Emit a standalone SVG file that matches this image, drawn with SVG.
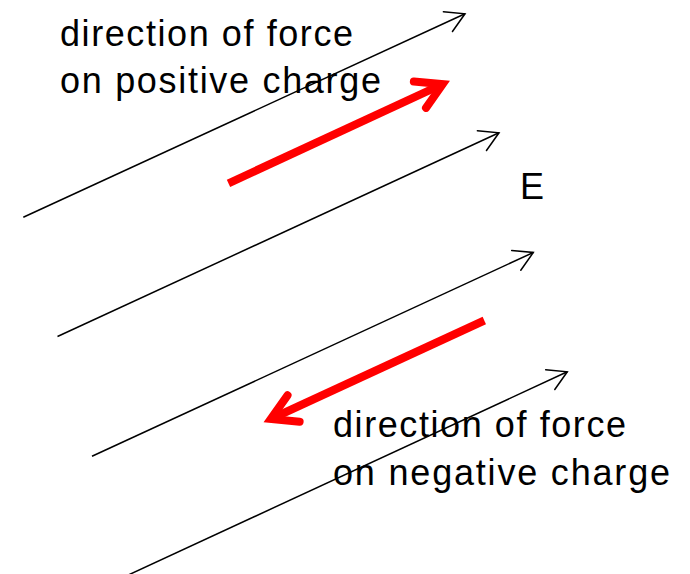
<svg xmlns="http://www.w3.org/2000/svg" width="690" height="574" viewBox="0 0 690 574">
  <style>
    .field { stroke: #000000; stroke-width: 1.5; fill: none; marker-end: url(#blackhead); }
    .force { stroke: #FF0000; stroke-width: 8; fill: none; stroke-linecap: butt; marker-end: url(#redhead); }
    .label { font-family: "Liberation Sans", Arial, sans-serif; font-size: 36px; fill: #000000; }
  </style>
  <defs>
    <marker id="blackhead" markerUnits="userSpaceOnUse" orient="auto" refX="0" refY="0" markerWidth="40" markerHeight="40" viewBox="-30 -20 40 40" overflow="visible">
      <path d="M-18.8,-10.85 L0,0 L-18.8,10.85" fill="none" stroke="#000000" stroke-width="1.5" stroke-linejoin="miter" stroke-linecap="round"/>
    </marker>
    <marker id="redhead" markerUnits="userSpaceOnUse" orient="auto" refX="0" refY="0" markerWidth="60" markerHeight="60" viewBox="-40 -30 60 60" overflow="visible">
      <path d="M-25.1,-14.5 L0,0 L-25.1,14.5" fill="none" stroke="#FF0000" stroke-width="8" stroke-linejoin="miter" stroke-linecap="round"/>
    </marker>
  </defs>
  <g id="connectors">
    <line id="field1" class="field" x1="23.3" y1="217.3" x2="465" y2="13.8"/>
    <line id="field2" class="field" x1="57.5" y1="336.5" x2="499" y2="132.8"/>
    <line id="field3" class="field" x1="92" y1="456.3" x2="533.3" y2="252.5"/>
    <line id="field4" class="field" x1="127" y1="575.6" x2="567.3" y2="371.8"/>
    <line id="force-positive" class="force" x1="228.5" y1="183.3" x2="442.7" y2="84.2"/>
    <line id="force-negative" class="force" x1="484.3" y1="320.5" x2="270.8" y2="419"/>
  </g>
  <g id="label-positive">
    <text class="label" x="60" y="45.5" textLength="293" lengthAdjust="spacing">direction of force</text>
    <text class="label" x="60" y="92.5" textLength="321" lengthAdjust="spacing">on positive charge</text>
  </g>
  <g id="label-E">
    <text class="label" x="520" y="198.5">E</text>
  </g>
  <g id="label-negative">
    <text class="label" x="333" y="436.7" textLength="293" lengthAdjust="spacing">direction of force</text>
    <text class="label" x="333" y="485" textLength="337" lengthAdjust="spacing">on negative charge</text>
  </g>
</svg>
